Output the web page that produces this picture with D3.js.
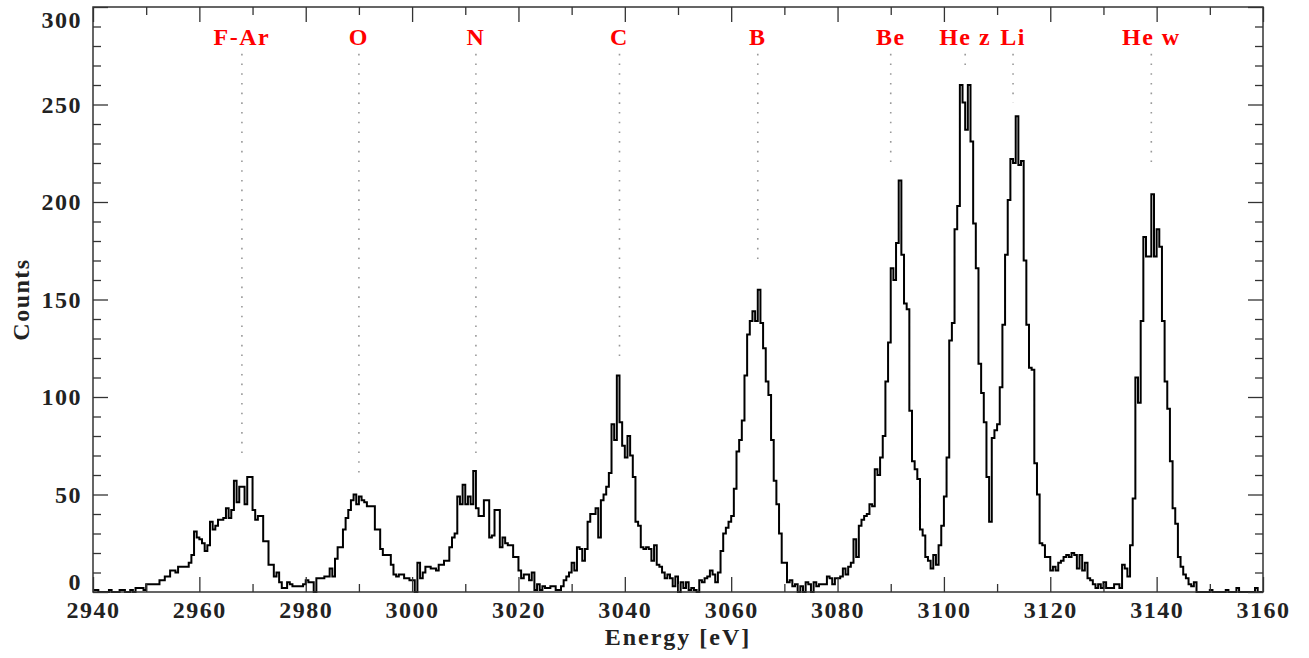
<!DOCTYPE html>
<html>
<head>
<meta charset="utf-8">
<script src="https://cdn.jsdelivr.net/npm/d3@7"></script>
<style>
body { margin: 0; background: #fff; }
text { font-family: "Liberation Serif", "Times New Roman", serif; font-weight: bold; }
</style>
</head>
<body>
<div id="chart"></div>
<script>
// spectrum.js

const width = 1309;
const height = 658;
const margin = {left: 93, right: 46, top: 7, bottom: 66};

// Histogram: 0.5 eV bins starting at 2940 eV
const energyStart = 2940;
const binWidth = 0.5;
const counts = [
    1,1,0,0,0,0,1,0,0,0,1,1,0,0,1,0,2,2,2,1,
    4,4,4,4,4,6,6,8,8,11,11,10,13,13,13,13,15,19,
    31,28,27,25,21,24,36,32,34,37,37,38,43,38,42,57,46,54,54,45,59,59,42,37,39,39,26,26,14,14,8,10,5,2,2,5,4,3,3,3,3,4,6,5,5,0,7,7,
    7,8,8,12,8,17,23,23,32,38,
    42,47,50,45,49,47,46,44,44,44,
    32,32,22,19,19,19,14,9,8,9,
    9,7,7,6,6,0,15,7,10,13,
    13,12,12,11,14,14,16,16,23,28,
    30,49,45,55,45,49,45,62,43,39,
    39,47,47,28,29,42,42,23,28,25,
    24,24,18,18,11,7,9,9,6,10,
    1,4,1,3,2,
    2,3,3,1,1,3,6,8,10,15,
    11,23,22,16,22,36,40,40,43,28,
    47,50,54,61,86,78,111,87,75,69,
    80,70,59,36,34,23,22,23,22,16,
    24,14,13,10,7,9,7,3,8,0,
    5,2,5,1,2,1,0,6,
    5,7,8,11,9,5,10,21,30,33,
    36,39,53,72,78,88,111,132,139,144,
    139,155,138,125,108,101,78,57,45,30,
    15,15,5,6,3,4,0,3,0,5,
    4,0,5,3,4,4,4,8,7,4,
    7,7,8,12,9,13,
    15,27,18,34,37,39,40,45,44,63,
    60,69,80,108,128,166,160,179,211,173,
    148,145,93,67,63,58,32,29,18,16,
    12,19,14,24,34,
    49,69,129,138,186,198,260,251,237,260,
    231,189,166,117,102,87,59,36,79,83,
    86,105,137,173,201,222,220,244,219,221,
    170,137,115,114,66,50,
    25,24,18,18,11,13,11,15,16,18,
    19,18,20,19,12,19,11,15,7,6,
    4,2,4,2,5,2,2,2,4,4,
    2,14,12,8,24,48,110,97,139,182,
    172,172,204,172,186,177,139,108,94,67,
    43,35,18,13,9,7,4,3,5,0,
    0,0,0,0,1,0,0,0,0,0,
    1,0,0,0,2,0,0,0,0,0,
    0,2,0,0
];

// Line identifications
const lineLabels = ["F-Ar", "O", "N", "C", "B", "Be", "He z", "Li", "He w"];
const lineEnergies = [2968, 2990, 3012, 3039, 3065, 3090, 3104, 3113, 3139];
const lineBottoms = [71, 61, 71, 121, 169, 220, 270, 251, 220];
const lineTop = 276;

// Ticks
const xMajor = d3.range(2940, 3161, 20);
const xMinor = d3.range(2950, 3160, 20);
const yMajor = d3.range(0, 301, 50);
const yMinor = d3.range(10, 300, 10).filter(v => v % 50 !== 0);

const svg = d3.select("#chart")
    .append("svg")
    .attr("width", width)
    .attr("height", height)
    .style("background", "#fff");

const x = d3.scaleLinear()
    .domain([2940, 3160])
    .range([margin.left, width - margin.right]);

const y = d3.scaleLinear()
    .domain([0, 300])
    .range([height - margin.bottom, margin.top]);

const axisColor = "#333";
const textColor = "#222";

// Dotted line markers
svg.append("g")
    .selectAll("line")
    .data(lineEnergies)
    .join("line")
    .attr("x1", d => x(d))
    .attr("x2", d => x(d))
    .attr("y1", y(lineTop))
    .attr("y2", (d, i) => y(lineBottoms[i]))
    .attr("stroke", "#999")
    .attr("stroke-width", 1.6)
    .attr("stroke-dasharray", "1.6,8.1");

svg.append("g")
    .selectAll("text")
    .data(lineLabels)
    .join("text")
    .attr("x", (d, i) => x(lineEnergies[i]))
    .attr("y", 45)
    .attr("text-anchor", "middle")
    .attr("fill", "#ff0000")
    .attr("font-size", "24px")
    .attr("letter-spacing", "1.5px")
    .text(d => d);

// Histogram
const pts = counts.map((c, i) => [energyStart + i * binWidth, c]);
pts.push([energyStart + counts.length * binWidth, counts[counts.length - 1]]);

const line = d3.line()
    .x(d => x(d[0]))
    .y(d => y(d[1]))
    .curve(d3.curveStepAfter);

svg.append("path")
    .datum(pts)
    .attr("d", line)
    .attr("fill", "none")
    .attr("stroke", "#000")
    .attr("stroke-width", 2)
    .attr("stroke-linejoin", "miter");

// Axes (ticks point inward)
const bottomY = height - margin.bottom;
const rightX = width - margin.right;

function styleAxis(g) {
    g.select(".domain").remove();
    g.selectAll(".tick line").attr("stroke", axisColor).attr("stroke-width", 1.3);
    g.selectAll(".tick text")
        .attr("fill", textColor)
        .attr("font-size", "24px")
        .attr("letter-spacing", "1.5px")
        .attr("font-family", "'Liberation Serif', serif")
        .attr("font-weight", "bold");
}

svg.append("g")
    .attr("transform", `translate(0,${bottomY})`)
    .call(d3.axisBottom(x).tickValues(xMajor).tickSizeInner(-15).tickSizeOuter(0).tickPadding(9).tickFormat(d3.format("d")))
    .call(styleAxis);

svg.append("g")
    .attr("transform", `translate(0,${bottomY})`)
    .call(d3.axisBottom(x).tickValues(xMinor).tickSizeInner(-8).tickSizeOuter(0).tickFormat(""))
    .call(styleAxis);

svg.append("g")
    .attr("transform", `translate(0,${margin.top})`)
    .call(d3.axisTop(x).tickValues(xMajor).tickSizeInner(-15).tickSizeOuter(0).tickFormat(""))
    .call(styleAxis);

svg.append("g")
    .attr("transform", `translate(0,${margin.top})`)
    .call(d3.axisTop(x).tickValues(xMinor).tickSizeInner(-8).tickSizeOuter(0).tickFormat(""))
    .call(styleAxis);

const leftAxis = svg.append("g")
    .attr("transform", `translate(${margin.left},0)`)
    .call(d3.axisLeft(y).tickValues(yMajor).tickSizeInner(-15).tickSizeOuter(0).tickPadding(11).tickFormat(d3.format("d")))
    .call(styleAxis);

// keep the end labels inside the frame
leftAxis.selectAll(".tick text")
    .attr("y", d => d === 0 ? -10 : (d === 300 ? 13 : 0));

svg.append("g")
    .attr("transform", `translate(${margin.left},0)`)
    .call(d3.axisLeft(y).tickValues(yMinor).tickSizeInner(-8).tickSizeOuter(0).tickFormat(""))
    .call(styleAxis);

svg.append("g")
    .attr("transform", `translate(${rightX},0)`)
    .call(d3.axisRight(y).tickValues(yMajor).tickSizeInner(-15).tickSizeOuter(0).tickFormat(""))
    .call(styleAxis);

svg.append("g")
    .attr("transform", `translate(${rightX},0)`)
    .call(d3.axisRight(y).tickValues(yMinor).tickSizeInner(-8).tickSizeOuter(0).tickFormat(""))
    .call(styleAxis);

// Frame
svg.append("rect")
    .attr("x", margin.left)
    .attr("y", margin.top)
    .attr("width", rightX - margin.left)
    .attr("height", bottomY - margin.top)
    .attr("fill", "none")
    .attr("stroke", axisColor)
    .attr("stroke-width", 1.5);

// Axis titles
svg.append("text")
    .attr("x", (margin.left + rightX) / 2)
    .attr("y", 645)
    .attr("text-anchor", "middle")
    .attr("fill", textColor)
    .attr("font-size", "24px")
    .attr("letter-spacing", "2px")
    .text("Energy [eV]");

svg.append("text")
    .attr("transform", `translate(29,${(margin.top + bottomY) / 2}) rotate(-90)`)
    .attr("text-anchor", "middle")
    .attr("fill", textColor)
    .attr("font-size", "24px")
    .attr("letter-spacing", "1.5px")
    .text("Counts");
</script>
</body>
</html>
